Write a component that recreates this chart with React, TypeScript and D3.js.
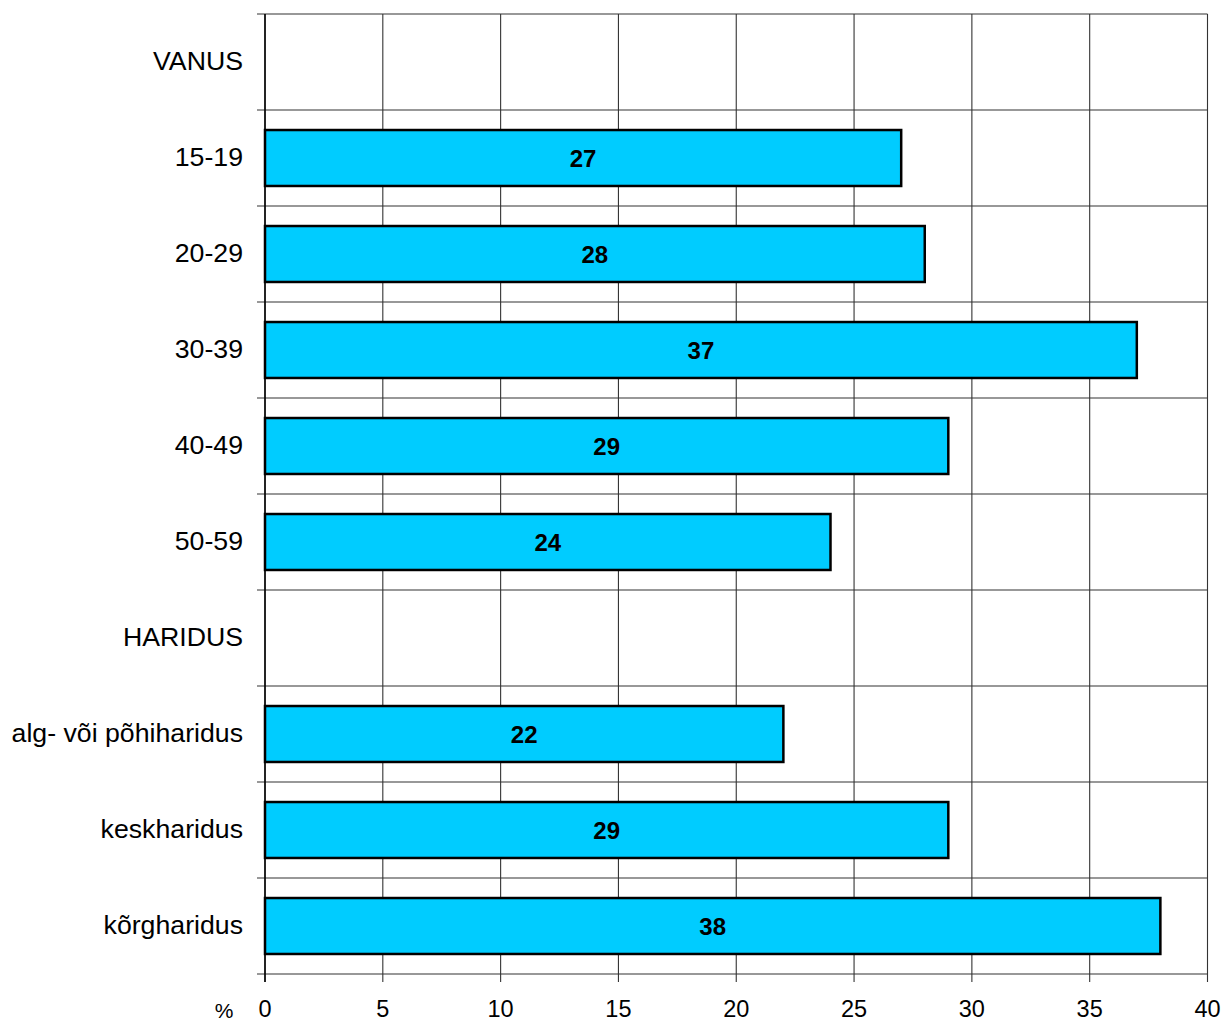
import React from "react";
import * as d3 from "d3";

const categories = ["VANUS", "15-19", "20-29", "30-39", "40-49", "50-59", "HARIDUS", "alg- või põhiharidus", "keskharidus", "kõrgharidus"];
const values: (number | null)[] = [null, 27, 28, 37, 29, 24, null, 22, 29, 38];
const xTicks = [0, 5, 10, 15, 20, 25, 30, 35, 40];

const W = 1226, H = 1023;
const left = 265, right = 1207.5, top = 14, bottom = 974;

export default function App() {
  const x = d3.scaleLinear().domain([0, 40]).range([left, right]);
  const y = d3.scaleBand<string>().domain(categories).range([top, bottom]).paddingInner(0.417).paddingOuter(0.2085);
  const rowH = (bottom - top) / categories.length;
  const rowLines = d3.range(categories.length + 1).map((i) => top + i * rowH);
  const font = "Arial, 'Liberation Sans', sans-serif";
  return (
    <svg width={W} height={H} style={{ position: "absolute", left: 0, top: 0 }}>
      <rect width={W} height={H} fill="#fff" />
      {xTicks.map((t) => (
        <line key={"v" + t} x1={x(t)} x2={x(t)} y1={top} y2={bottom + 8} stroke="#333" strokeWidth={1.1} />
      ))}
      {rowLines.map((yy, i) => (
        <line key={"h" + i} x1={left - 8} x2={right} y1={yy} y2={yy} stroke="#333" strokeWidth={1.1} />
      ))}
      <line x1={left} x2={left} y1={top} y2={bottom + 8} stroke="#000" strokeWidth={1.5} />
      {categories.map((c, i) => {
        const v = values[i];
        const yc = top + (i + 0.5) * rowH;
        return (
          <g key={c}>
            <text x={243} y={yc + 7.5} textAnchor="end" fontFamily={font} fontSize={26.7} fill="#000">{c}</text>
            {v != null && (
              <>
                <rect x={x(0)} y={y(c)!} width={x(v) - x(0)} height={y.bandwidth()} fill="#00CCFF" stroke="#000" strokeWidth={2.5} />
                <text x={(x(0) + x(v)) / 2} y={yc + 8.7} textAnchor="middle" fontFamily={font} fontSize={24} fontWeight="bold" fill="#000">{v}</text>
              </>
            )}
          </g>
        );
      })}
      {xTicks.map((t) => (
        <text key={"t" + t} x={x(t)} y={1017} textAnchor="middle" fontFamily={font} fontSize={23.5} fill="#000">{t}</text>
      ))}
      <text x={224} y={1018} textAnchor="middle" fontFamily={font} fontSize={21} fill="#000">%</text>
    </svg>
  );
}
